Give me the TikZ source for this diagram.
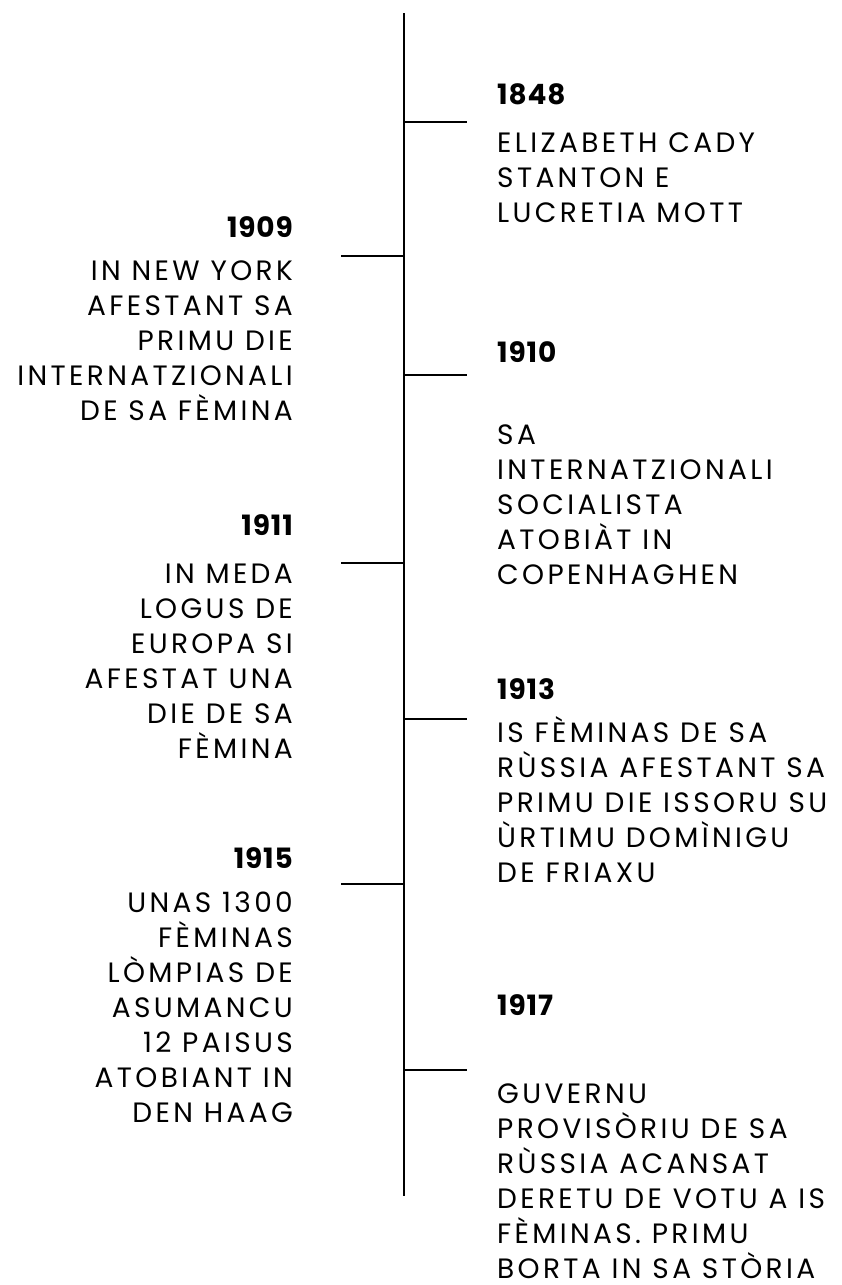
\documentclass[tikz,border=0pt]{standalone}
\usepackage{fontspec}
\newfontfamily\bodyfont{Poppins}[LetterSpace=12]
\newfontfamily\yearfont{Poppins}[LetterSpace=3]
\begin{document}
\begin{tikzpicture}[x=1pt,y=-1pt,
  axis/.style={line width=2pt,black},
  tick/.style={line width=1.6pt,black},
  yearR/.style={anchor=base west,inner sep=0pt,font=\yearfont\bfseries\fontsize{28}{34}\selectfont},
  yearL/.style={anchor=base east,inner sep=0pt,font=\yearfont\bfseries\fontsize{28}{34}\selectfont},
  bodyR/.style={anchor=base west,inner sep=0pt,align=left,font=\bodyfont\fontsize{28}{35}\selectfont},
  bodyL/.style={anchor=base east,inner sep=0pt,align=right,font=\bodyfont\fontsize{28}{35}\selectfont}]
\useasboundingbox (0,0) rectangle (841,1285);
\coordinate (top) at (404,13);
\coordinate (bot) at (404,1196);
\draw[axis] (top) -- (bot);
% right ticks
\foreach \n/\y in {a/122,c/375,e/719,g/1070}{
  \coordinate (s\n) at (404,\y); \coordinate (t\n) at (467,\y);
  \draw[tick] (s\n) -- (t\n);}
% left ticks
\foreach \n/\y in {b/256,d/563,f/884}{
  \coordinate (s\n) at (404,\y); \coordinate (t\n) at (341,\y);
  \draw[tick] (s\n) -- (t\n);}
% 1848
\node[yearR] (y1848) at (497,104) {1848};
\node[bodyR] (b1848) at (497,222) {ELIZABETH CADY\\STANTON E\\LUCRETIA MOTT};
% 1909
\node[yearL] (y1909) at (293,237) {1909};
\node[bodyL] (b1909) at (293,420) {IN NEW YORK\\AFESTANT SA\\PRIMU DIE\\INTERNATZIONALI\\DE SA FÈMINA};
% 1910
\node[yearR] (y1910) at (497,362) {1910};
\node[bodyR] (b1910) at (497,584) {SA\\INTERNATZIONALI\\SOCIALISTA\\ATOBIÀT IN\\COPENHAGHEN};
% 1911
\node[yearL] (y1911) at (293,535) {1911};
\node[bodyL] (b1911) at (293,758) {IN MEDA\\LOGUS DE\\EUROPA SI\\AFESTAT UNA\\DIE DE SA\\FÈMINA};
% 1913
\node[yearR] (y1913) at (497,699) {1913};
\node[bodyR] (b1913) at (497,882) {IS FÈMINAS DE SA\\RÙSSIA AFESTANT SA\\PRIMU DIE ISSORU SU\\ÙRTIMU DOMÌNIGU\\DE FRIAXU};
% 1915
\node[yearL] (y1915) at (293,868) {1915};
\node[bodyL] (b1915) at (293,1122) {UNAS 1300\\FÈMINAS\\LÒMPIAS DE\\ASUMANCU\\12 PAISUS\\ATOBIANT IN\\DEN HAAG};
% 1917
\node[yearR] (y1917) at (497,1015) {1917};
\node[bodyR] (b1917) at (497,1278) {GUVERNU\\PROVISÒRIU DE SA\\RÙSSIA ACANSAT\\DERETU DE VOTU A IS\\FÈMINAS. PRIMU\\BORTA IN SA STÒRIA};
\end{tikzpicture}
\end{document}
